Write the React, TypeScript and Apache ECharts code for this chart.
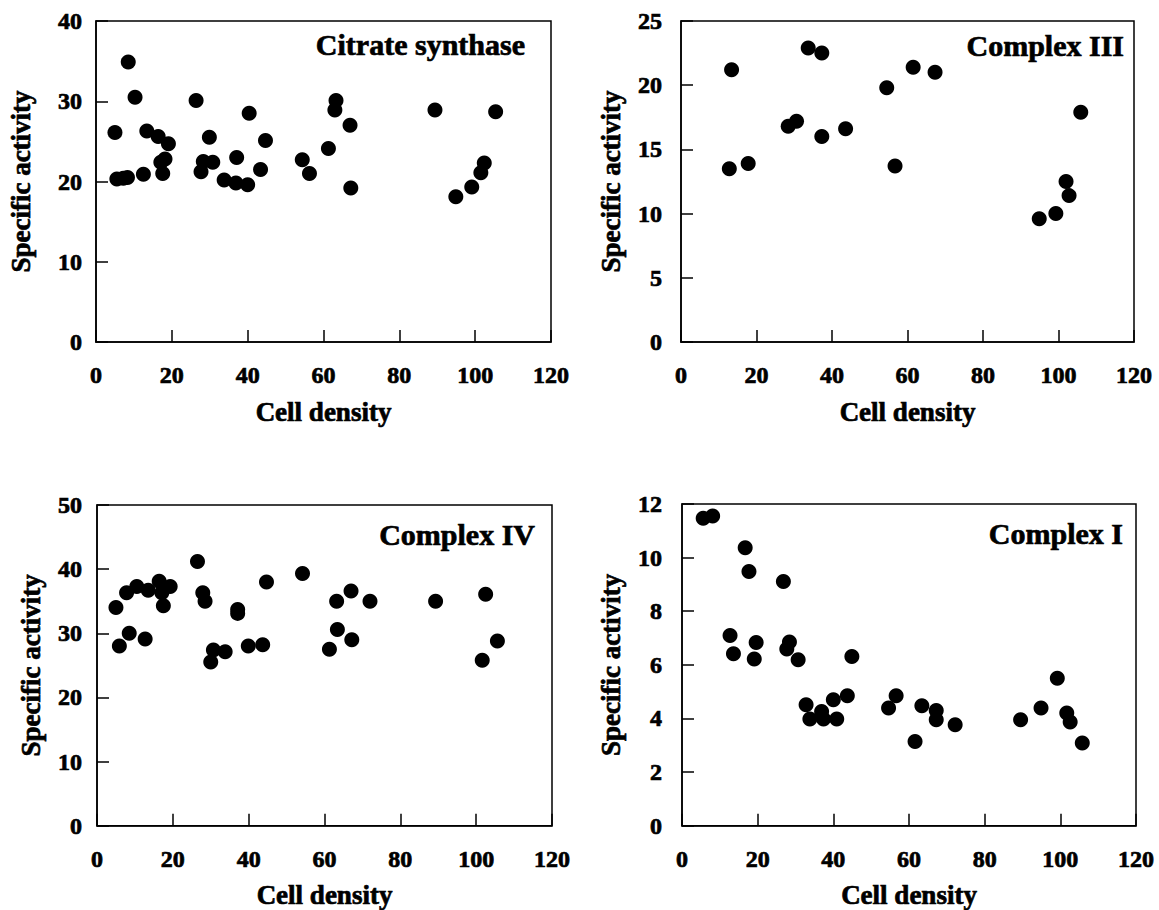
import React, { useEffect, useRef } from "react";
import * as echarts from "echarts";

// Citrate synthase (top-left)
const csX = [8.5, 10.3, 5.0, 13.4, 16.4, 19.1, 18.2, 17.1, 17.6, 12.5, 5.5, 7.2, 8.3, 26.4, 29.9, 28.3, 30.8, 27.7, 33.8, 37.1, 36.9, 40.0, 40.4, 44.7, 43.4, 54.4, 56.3, 61.3, 63.3, 63.0, 67.0, 67.2, 89.4, 105.4, 94.9, 99.1, 101.5, 102.4];
const csY = [34.9, 30.5, 26.1, 26.3, 25.6, 24.7, 22.8, 22.4, 21.0, 20.9, 20.3, 20.4, 20.5, 30.1, 25.5, 22.5, 22.4, 21.2, 20.2, 23.0, 19.8, 19.6, 28.5, 25.1, 21.5, 22.7, 21.0, 24.1, 30.1, 28.9, 27.0, 19.2, 28.9, 28.7, 18.1, 19.3, 21.1, 22.3];

// Complex III (top-right)
const c3X = [13.4, 12.8, 17.8, 33.7, 37.3, 28.4, 30.6, 37.3, 43.6, 54.5, 56.7, 61.5, 67.3, 94.9, 99.3, 102.0, 102.8, 105.9];
const c3Y = [21.2, 13.5, 13.9, 22.9, 22.5, 16.8, 17.2, 16.0, 16.6, 19.8, 13.7, 21.4, 21.0, 9.6, 10.0, 12.5, 11.4, 17.9];

// Complex IV (bottom-left)
const c4X = [5.0, 5.9, 7.8, 8.5, 10.5, 12.7, 13.5, 16.4, 19.3, 17.1, 17.5, 26.5, 27.9, 28.5, 30.7, 33.8, 30.0, 37.1, 37.1, 39.9, 43.7, 44.7, 54.2, 61.3, 63.2, 63.4, 67.0, 67.2, 72.0, 89.3, 102.5, 101.6, 105.6];
const c4Y = [34.0, 28.0, 36.3, 30.0, 37.3, 29.1, 36.7, 38.1, 37.3, 36.3, 34.3, 41.2, 36.3, 35.0, 27.4, 27.1, 25.5, 33.7, 33.1, 28.0, 28.2, 38.0, 39.3, 27.5, 35.0, 30.6, 36.6, 29.0, 35.0, 35.0, 36.1, 25.8, 28.8];

// Complex I (bottom-right)
const c1X = [5.6, 8.1, 16.7, 17.7, 26.8, 12.7, 13.6, 19.6, 19.1, 28.4, 27.7, 30.7, 44.9, 32.8, 33.8, 36.9, 37.4, 40.0, 40.9, 43.7, 54.6, 56.6, 61.6, 63.4, 67.2, 67.2, 72.2, 89.5, 94.9, 99.2, 101.7, 102.6, 105.8];
const c1Y = [11.47, 11.55, 10.37, 9.48, 9.11, 7.09, 6.41, 6.83, 6.22, 6.85, 6.59, 6.19, 6.31, 4.51, 3.98, 4.26, 3.98, 4.70, 3.98, 4.85, 4.39, 4.85, 3.14, 4.47, 4.30, 3.95, 3.76, 3.95, 4.39, 5.50, 4.20, 3.87, 3.08];

const panelTitles = ["Citrate synthase", "Complex III", "Complex IV", "Complex I"];
const yMax = [40, 25, 50, 12];
const yStep = [10, 5, 10, 2];
const xTitle = "Cell density";
const yTitle = "Specific activity";

const FONT = "'Liberation Serif', 'Times New Roman', serif";

export default function App() {
  const ref = useRef<HTMLDivElement>(null);
  useEffect(() => {
    if (!ref.current) return;
    const chart = echarts.init(ref.current, null, { renderer: "svg" });
    const grids = [
      { left: 96, top: 21, width: 455, height: 321 },
      { left: 681, top: 21, width: 453, height: 321 },
      { left: 97, top: 505, width: 455, height: 322 },
      { left: 682, top: 504, width: 454, height: 322 },
    ];
    const yNameGap = [62, 57, 53, 58];
    const yLabelMargin = [14, 19, 15, 20];
    const titlePos = [
      [525, 44],
      [1124, 45],
      [535, 534],
      [1123, 533],
    ];
    const datasets = [
      [csX, csY],
      [c3X, c3Y],
      [c4X, c4Y],
      [c1X, c1Y],
    ];
    const heavy = { textBorderColor: "#000", textBorderWidth: 0.7 };
    const axisLine = { show: true, onZero: false, lineStyle: { color: "#000", width: 1.5 } };
    const axisTick = { show: true, inside: true, length: 12, lineStyle: { color: "#000", width: 1.5 } };
    chart.setOption({
      animation: false,
      backgroundColor: "#fff",
      grid: grids.map((g) => ({
        ...g,
        show: true,
        borderColor: "#000",
        borderWidth: 1.5,
        backgroundColor: "transparent",
        containLabel: false,
      })),
      xAxis: grids.map((_, i) => ({
        type: "value",
        gridIndex: i,
        min: 0,
        max: 120,
        interval: 20,
        axisLine,
        axisTick,
        splitLine: { show: false },
        axisLabel: {
          color: "#000",
          fontFamily: FONT,
          fontWeight: "bold",
          fontSize: 24,
          margin: 21,
          ...heavy,
        },
        name: xTitle,
        nameLocation: "middle",
        nameGap: 56,
        nameTextStyle: { color: "#000", fontFamily: FONT, fontWeight: "bold", fontSize: 27, ...heavy },
      })),
      yAxis: grids.map((_, i) => ({
        type: "value",
        gridIndex: i,
        min: 0,
        max: yMax[i],
        interval: yStep[i],
        axisLine,
        axisTick,
        splitLine: { show: false },
        axisLabel: {
          color: "#000",
          fontFamily: FONT,
          fontWeight: "bold",
          fontSize: 24,
          margin: yLabelMargin[i],
          ...heavy,
        },
        name: yTitle,
        nameLocation: "middle",
        nameGap: yNameGap[i],
        nameTextStyle: { color: "#000", fontFamily: FONT, fontWeight: "bold", fontSize: 27, ...heavy },
      })),
      series: datasets.map(([xs, ys], i) => ({
        type: "scatter",
        xAxisIndex: i,
        yAxisIndex: i,
        symbol: "circle",
        symbolSize: 15,
        itemStyle: { color: "#000", opacity: 1 },
        data: xs.map((x, k) => [x, ys[k]]),
      })),
      graphic: panelTitles.map((t, i) => ({
        type: "text",
        x: titlePos[i][0],
        y: titlePos[i][1],
        style: {
          text: t,
          align: "right",
          verticalAlign: "middle",
          fill: "#000",
          stroke: "#000",
          lineWidth: 0.7,
          font: `bold 30px ${FONT}`,
        },
      })),
    });
    return () => chart.dispose();
  }, []);
  return (
    <div
      ref={ref}
      style={{ position: "absolute", left: 0, top: 0, width: 1159, height: 910, background: "#fff" }}
    />
  );
}
